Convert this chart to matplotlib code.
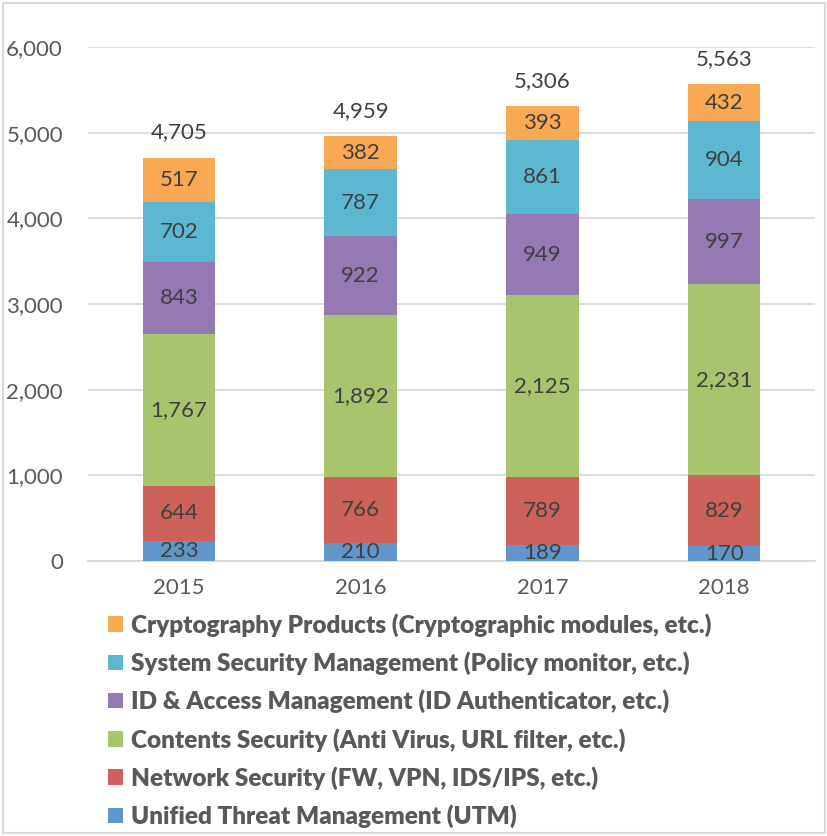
import matplotlib.pyplot as plt
from matplotlib.patches import Rectangle

plt.rcParams['font.family'] = ['Lato', 'DejaVu Sans']

years = ["2015", "2016", "2017", "2018"]
series_names = [
    "Unified Threat Management (UTM)",
    "Network Security (FW, VPN, IDS/IPS, etc.)",
    "Contents Security (Anti Virus, URL filter, etc.)",
    "ID & Access Management (ID Authenticator, etc.)",
    "System Security Management (Policy monitor, etc.)",
    "Cryptography Products (Cryptographic modules, etc.)",
]
utm = [233, 210, 189, 170]
network = [644, 766, 789, 829]
contents = [1767, 1892, 2125, 2231]
id_access = [843, 922, 949, 997]
system_mgmt = [702, 787, 861, 904]
crypto = [517, 382, 393, 432]
totals = [4705, 4959, 5306, 5563]

colors = ["#6096C9", "#CC625A", "#A8C46C", "#9479B2", "#5CB8D1", "#F9A853"]

fig = plt.figure(figsize=(8.28, 8.36), dpi=100)
ax = fig.add_axes([88 / 828, 1 - 561 / 836, 727 / 828, 514 / 836])

x = list(range(len(years)))
bottoms = [0] * len(years)
handles = []
for vals, name, col in zip([utm, network, contents, id_access, system_mgmt, crypto], series_names, colors):
    bars = ax.bar(x, vals, width=0.4, bottom=bottoms, color=col, label=name, zorder=3)
    handles.append(bars)
    for xi, b, v in zip(x, bottoms, vals):
        ax.text(xi, b + v / 2, f"{v:,}", ha="center", va="center", fontsize=16, color="#404040", zorder=4)
    bottoms = [b + v for b, v in zip(bottoms, vals)]

# totals above each bar
for xi, t in zip(x, totals):
    ax.text(xi, t + 180, f"{t:,}", ha="center", va="bottom", fontsize=16, color="#404040")

ax.set_xlim(-0.5, 3.5)
ax.set_ylim(0, 6000)
ax.set_yticks(range(0, 6001, 1000))
ax.set_yticklabels([f"{v:,}" for v in range(0, 6001, 1000)])
ax.set_xticks(x)
ax.set_xticklabels(years)
ax.tick_params(axis="both", length=0, labelsize=16, colors="#595959")
ax.tick_params(axis="x", pad=12)
ax.tick_params(axis="y", pad=18)
ax.grid(axis="y", color="#D9D9D9", linewidth=1.3, zorder=0)
for s in ["top", "right", "left"]:
    ax.spines[s].set_visible(False)
ax.spines["bottom"].set_color("#D9D9D9")
ax.spines["bottom"].set_linewidth(1.3)

fig.legend(handles[::-1], series_names[::-1], loc="upper left",
           bbox_to_anchor=(108 / 828, 1 - 613 / 836), frameon=False,
           prop={"weight": "heavy", "size": 17.5}, labelcolor="#595959",
           handlelength=0.6, handleheight=0.6, handletextpad=0.35, labelspacing=0.6,
           borderaxespad=0, borderpad=0)

fig.patches.append(Rectangle((3 / 828, 3 / 836), 822 / 828, 830 / 836, transform=fig.transFigure,
                             fill=False, edgecolor="#D9D9D9", linewidth=1.5))

fig.savefig("out.png", dpi=100)
